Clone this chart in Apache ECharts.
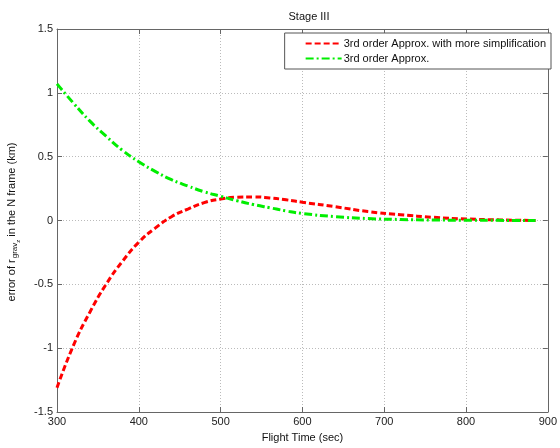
<!DOCTYPE html>
<html>
<head>
<meta charset="utf-8">
<script src="https://cdn.jsdelivr.net/npm/echarts@6/dist/echarts.min.js"></script>
<style>html,body{margin:0;padding:0;background:#fff}#c{width:560px;height:448px}</style>
</head>
<body>
<div id="c"></div>
<script>
var times = [300, 320, 340, 360, 380, 400, 420, 440, 460, 480, 500, 520, 540, 560, 580, 600, 640, 680, 720, 760, 800, 840, 885];
var simplifiedErr = [-1.31, -0.98, -0.72, -0.50, -0.32, -0.17, -0.06, 0.03, 0.09, 0.14, 0.168, 0.183, 0.185, 0.177, 0.162, 0.143, 0.108, 0.07, 0.045, 0.025, 0.012, 0.005, 0.0];
var approxErr = [1.07, 0.92, 0.78, 0.66, 0.55, 0.46, 0.385, 0.32, 0.27, 0.225, 0.19, 0.155, 0.125, 0.10, 0.075, 0.055, 0.03, 0.015, 0.008, 0.004, 0.002, 0.001, 0.0];
var seriesNames = ['3rd order Approx. with more simplification', '3rd order Approx.'];
var xTicks = [300, 400, 500, 600, 700, 800, 900];
var yTicks = [-1.5, -1, -0.5, 0, 0.5, 1, 1.5];

function pairs(xs, ys) { return xs.map(function (x, i) { return [x, ys[i]]; }); }

var font = 'Liberation Sans, Arial, sans-serif';
var chart = echarts.init(document.getElementById('c'));
var gridLine = { show: true, lineStyle: { color: '#bbb', type: [1, 2], width: 1 } };
var axLine = { show: true, onZero: false, lineStyle: { color: '#666', width: 1 } };
var tick = { show: true, inside: true, length: 5, lineStyle: { color: '#666' } };
chart.setOption({
  animation: false,
  backgroundColor: '#fff',
  title: {
    text: 'Stage III', left: 304, top: 6, textAlign: 'center',
    textStyle: { fontFamily: font, fontSize: 11, fontWeight: 'normal', color: '#111' }
  },
  legend: {
    orient: 'vertical', right: 9, top: 33,
    backgroundColor: '#fff', borderColor: '#555', borderWidth: 1,
    padding: [5, 5, 5, 20], itemGap: 4, itemWidth: 36, itemHeight: 10,
    itemStyle: { opacity: 0 },
    textStyle: { fontFamily: font, fontSize: 11, color: '#111', padding: [0, 0, 0, -3] },
    data: seriesNames
  },
  grid: { left: 57, right: 8, top: 29, bottom: 32 },
  xAxis: [{
    type: 'value', min: 300, max: 900, interval: 100,
    axisLine: axLine, axisTick: tick,
    axisLabel: { fontFamily: font, fontSize: 11, color: '#222', margin: 4 },
    splitLine: gridLine,
    name: 'Flight Time (sec)', nameLocation: 'middle', nameGap: 20,
    nameTextStyle: { fontFamily: font, fontSize: 11, color: '#111' }
  }, {
    type: 'value', position: 'top', min: 300, max: 900, interval: 100,
    axisLine: axLine, axisTick: tick,
    axisLabel: { show: false }, splitLine: { show: false }
  }],
  yAxis: [{
    type: 'value', min: -1.5, max: 1.5, interval: 0.5,
    axisLine: axLine, axisTick: tick,
    axisLabel: { fontFamily: font, fontSize: 11, color: '#222', margin: 4 },
    splitLine: gridLine
  }, {
    type: 'value', position: 'right', min: -1.5, max: 1.5, interval: 0.5,
    axisLine: axLine, axisTick: tick,
    axisLabel: { show: false }, splitLine: { show: false }
  }],
  graphic: [{
    type: 'text', x: 12, y: 222, rotation: Math.PI / 2,
    style: {
      text: '{a|error of r}{b|grav}{c|z}{a| in the N frame (km)}',
      align: 'center', verticalAlign: 'middle',
      rich: {
        a: { fontFamily: font, fontSize: 11, fill: '#111', height: 14, verticalAlign: 'middle' },
        b: { fontFamily: font, fontSize: 8, fill: '#111', padding: [6, 0, 0, 1] },
        c: { fontFamily: font, fontSize: 6, fill: '#111', padding: [12, 0, 0, 0] }
      }
    }
  }],
  series: [{
    name: seriesNames[0], type: 'line', smooth: true, showSymbol: false, symbol: 'none',
    data: pairs(times, simplifiedErr), z: 3,
    lineStyle: { color: '#ff0000', width: 3, type: [6, 3] }, itemStyle: { color: '#ff0000' }
  }, {
    name: seriesNames[1], type: 'line', smooth: true, showSymbol: false, symbol: 'none',
    data: pairs(times, approxErr), z: 4,
    lineStyle: { color: '#00ee00', width: 3, type: [8, 3, 2, 3] }, itemStyle: { color: '#00ee00' }
  }]
});
</script>
</body>
</html>
